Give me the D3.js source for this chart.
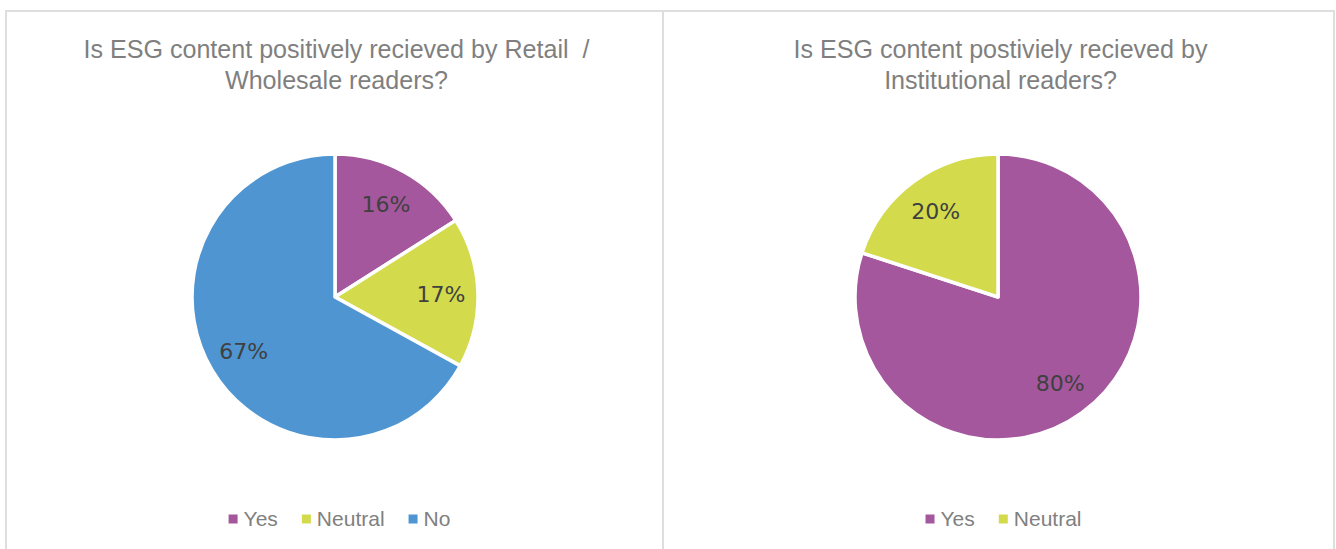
<!DOCTYPE html>
<html>
<head>
<meta charset="utf-8">
<script src="https://cdn.jsdelivr.net/npm/d3@7"></script>
<style>
  html, body { margin: 0; padding: 0; background: #ffffff; }
  svg { display: block; }
  .title { white-space: pre; }
</style>
</head>
<body>
<svg id="chart" width="1336" height="549"></svg>
<script>
// Survey answers, in percent
const retailCategories = ["Yes", "Neutral", "No"];
const retailValues = [16, 17, 67];
const institutionalCategories = ["Yes", "Neutral"];
const institutionalValues = [80, 20];

const retailTitle = ["Is ESG content positively recieved by Retail  /", "Wholesale readers?"];
const institutionalTitle = ["Is ESG content postiviely recieved by", "Institutional readers?"];

const colour = d3.scaleOrdinal()
  .domain(["Yes", "Neutral", "No"])
  .range(["#a4579c", "#d3db4c", "#4f95d1"]);

const svg = d3.select("#chart");

const panels = [
  { x0: 6, x1: 663, cx: 335, title: retailTitle, cats: retailCategories, vals: retailValues },
  { x0: 663, x1: 1334, cx: 998, title: institutionalTitle, cats: institutionalCategories, vals: institutionalValues }
];

const radius = 143;
const cy = 297;
const labelR = 106;

const pie = d3.pie().sort(null).value(d => d.value);
const arc = d3.arc().innerRadius(0).outerRadius(radius);
const labelArc = d3.arc().innerRadius(labelR).outerRadius(labelR);

panels.forEach(p => {
  const g = svg.append("g");

  // panel frame
  g.append("rect")
    .attr("x", p.x0).attr("y", 11)
    .attr("width", p.x1 - p.x0).attr("height", 560)
    .attr("fill", "none")
    .attr("stroke", "#dedede")
    .attr("stroke-width", 2);

  // title, slightly condensed
  const tx = (p.x0 + p.x1) / 2 + 2;
  g.append("g")
    .attr("transform", `translate(${tx},0) scale(0.965,1)`)
    .selectAll("text")
    .data(p.title)
    .join("text")
    .attr("class", "title")
    .attr("x", 0)
    .attr("y", (d, i) => 58 + i * 31)
    .attr("text-anchor", "middle")
    .attr("font-family", "'Liberation Sans', sans-serif")
    .attr("font-size", 26)
    .attr("fill", "#7f7f7f")
    .text(d => d);

  const data = p.cats.map((c, i) => ({ name: c, value: p.vals[i] }));
  const arcs = pie(data);

  const pg = g.append("g").attr("transform", `translate(${p.cx},${cy})`);
  pg.selectAll("path")
    .data(arcs)
    .join("path")
    .attr("d", arc)
    .attr("fill", d => colour(d.data.name))
    .attr("stroke", "#ffffff")
    .attr("stroke-width", 3.5)
    .attr("stroke-linejoin", "round");

  pg.selectAll("text")
    .data(arcs)
    .join("text")
    .attr("transform", d => `translate(${labelArc.centroid(d)})`)
    .attr("text-anchor", "middle")
    .attr("dy", "0.36em")
    .attr("font-family", "'DejaVu Sans', sans-serif")
    .attr("font-size", 22)
    .attr("fill", "#404040")
    .text(d => d.data.value + "%");

  // legend
  const lg = g.append("g").attr("transform", "translate(0,519)");
  const items = lg.selectAll("g").data(p.cats).join("g");
  items.append("rect")
    .attr("width", 9).attr("height", 9)
    .attr("y", -4.5)
    .attr("fill", d => colour(d));
  items.append("text")
    .attr("x", 15)
    .attr("dy", "0.35em")
    .attr("font-family", "'Liberation Sans', sans-serif")
    .attr("font-size", 21)
    .attr("fill", "#808080")
    .text(d => d);

  // lay items out side by side, centred in the panel
  const widths = [];
  items.each(function () {
    widths.push(this.getBBox().width);
  });
  const gap = 24;
  const total = d3.sum(widths) + gap * (widths.length - 1);
  let x = (p.x0 + p.x1) / 2 - total / 2 + 5;
  items.attr("transform", (d, i) => {
    const t = `translate(${x},0)`;
    x += widths[i] + gap;
    return t;
  });
});
</script>
</body>
</html>
